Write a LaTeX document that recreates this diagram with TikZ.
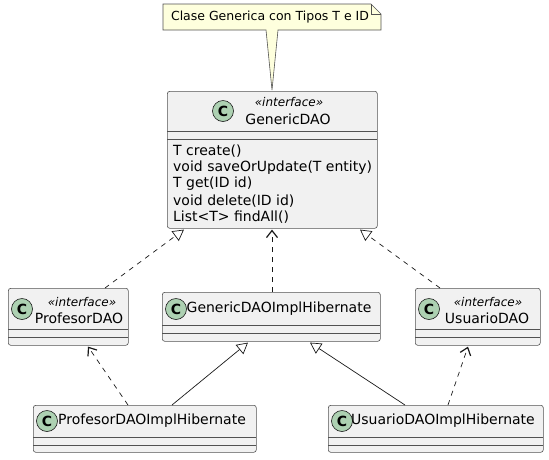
\documentclass[tikz,border=0pt]{standalone}
\usepackage{fontspec}
\setmainfont{DejaVu Sans}
\usetikzlibrary{arrows.meta,calc}
\definecolor{boxfill}{HTML}{F1F1F1}
\definecolor{boxline}{HTML}{181818}
\definecolor{spotc}{HTML}{ADD1B2}
\definecolor{notefill}{HTML}{FEFFDD}
\tikzset{
  cls/.style={draw=boxline!75, line width=0.6pt, fill=boxfill, rounded corners=2.5pt, inner sep=0pt, anchor=north west},
  sepline/.style={draw=boxline!75, line width=0.6pt},
  spot/.style={circle, draw=boxline, line width=0.6pt, fill=spotc, minimum size=21pt, inner sep=0pt, font=\fontsize{14}{14}\selectfont\bfseries},
  cname/.style={inner sep=0pt, font=\fontsize{14}{16}\selectfont},
  stereo/.style={inner sep=0pt, font=\fontsize{12}{14}\selectfont\itshape},
  member/.style={inner sep=0pt, anchor=west, font=\fontsize{14}{16}\selectfont},
  link/.style={draw=boxline, line width=0.7pt},
  realize/.style={link, dashed, dash pattern=on 5pt off 5pt, -{Triangle[open, length=11pt, width=12pt]}},
  extend/.style={link, -{Triangle[open, length=11pt, width=12pt]}},
  depend/.style={link, dashed, dash pattern=on 5pt off 5pt, -{Straight Barb[length=7pt, width=11pt, line width=1.2pt]}},
}
\begin{document}
\begin{tikzpicture}[x=1pt, y=-1pt]
\useasboundingbox (0,0) rectangle (549,459);

% note
\fill[notefill] (163,4) -- (371,4) -- (381,14) -- (381,30) -- (278,30) -- (272,90) -- (266,30) -- (163,30) -- cycle;
\draw[boxline!75, line width=0.6pt] (163,4) -- (371,4) -- (381,14) -- (381,30) -- (278,30) -- (272,90) -- (266,30) -- (163,30) -- cycle;
\draw[boxline!75, line width=0.6pt] (371,4) -- (371,14) -- (381,14);
\node[inner sep=0pt, font=\fontsize{12.5}{14}\selectfont] (notetext) at (270,17) {Clase Generica con Tipos T e ID};

% GenericDAO
\node[cls, minimum width=210pt, minimum height=137pt] (g) at (167,91) {};
\draw[sepline] (167,131) -- (377,131);
\draw[sepline] (167,139) -- (377,139);
\node[spot] (gs) at (223,111) {C};
\node[stereo] (gst) at (289,102) {«interface»};
\node[cname] (gn) at (288,119) {GenericDAO};
\node[member] (m1) at (173,151) {T create()};
\node[member] (m2) at (173,168) {void saveOrUpdate(T entity)};
\node[member] (m3) at (173,184) {T get(ID id)};
\node[member] (m4) at (173,201) {void delete(ID id)};
\node[member] (m5) at (173,217) {List<T> findAll()};

% ProfesorDAO
\node[cls, minimum width=120pt, minimum height=57pt] (pd) at (8,288) {};
\draw[sepline] (8,329) -- (128,329);
\draw[sepline] (8,337) -- (128,337);
\node[spot] (pds) at (22,309) {C};
\node[stereo] (pdst) at (82,302) {«interface»};
\node[cname] (pdn) at (79,318) {ProfesorDAO};

% GenericDAOImplHibernate
\node[cls, minimum width=218pt, minimum height=49pt] (gi) at (162,292) {};
\draw[sepline] (162,325) -- (380,325);
\draw[sepline] (162,333) -- (380,333);
\node[spot] (gis) at (176,309) {C};
\node[cname] (gin) at (279,309) {GenericDAOImplHibernate};

% UsuarioDAO
\node[cls, minimum width=125pt, minimum height=57pt] (ud) at (415,288) {};
\draw[sepline] (415,329) -- (540,329);
\draw[sepline] (415,337) -- (540,337);
\node[spot] (uds) at (429,309) {C};
\node[stereo] (udst) at (488,302) {«interface»};
\node[cname] (udn) at (487,318) {UsuarioDAO};

% ProfesorDAOImplHibernate
\node[cls, minimum width=223pt, minimum height=47pt] (pi) at (33,405) {};
\draw[sepline] (33,437) -- (256,437);
\draw[sepline] (33,445) -- (256,445);
\node[spot] (pis) at (47,421) {C};
\node[cname] (pin) at (152,421) {ProfesorDAOImplHibernate};

% UsuarioDAOImplHibernate
\node[cls, minimum width=215pt, minimum height=47pt] (ui) at (328,405) {};
\draw[sepline] (328,437) -- (543,437);
\draw[sepline] (328,445) -- (543,445);
\node[spot] (uis) at (342,421) {C};
\node[cname] (uin) at (443,421) {UsuarioDAOImplHibernate};

% connectors
\draw[realize] ($(pd.north west)+(97,0)$) -- ($(g.south west)+(17,1)$);
\draw[depend] ($(gi.north west)+(110,0)$) -- ($(g.south west)+(105,1)$);
\draw[realize] ($(ud.north west)+(25,0)$) -- ($(g.south west)+(193,1)$);
\draw[depend] ($(pi.north west)+(95,0)$) -- ($(pd.south west)+(80,1)$);
\draw[extend] ($(pi.north west)+(139,0)$) -- ($(gi.south west)+(86,1)$);
\draw[extend] ($(ui.north west)+(77,0)$) -- ($(gi.south west)+(148,1)$);
\draw[depend] ($(ui.north west)+(120,0)$) -- ($(ud.south west)+(53,1)$);
\end{tikzpicture}
\end{document}
